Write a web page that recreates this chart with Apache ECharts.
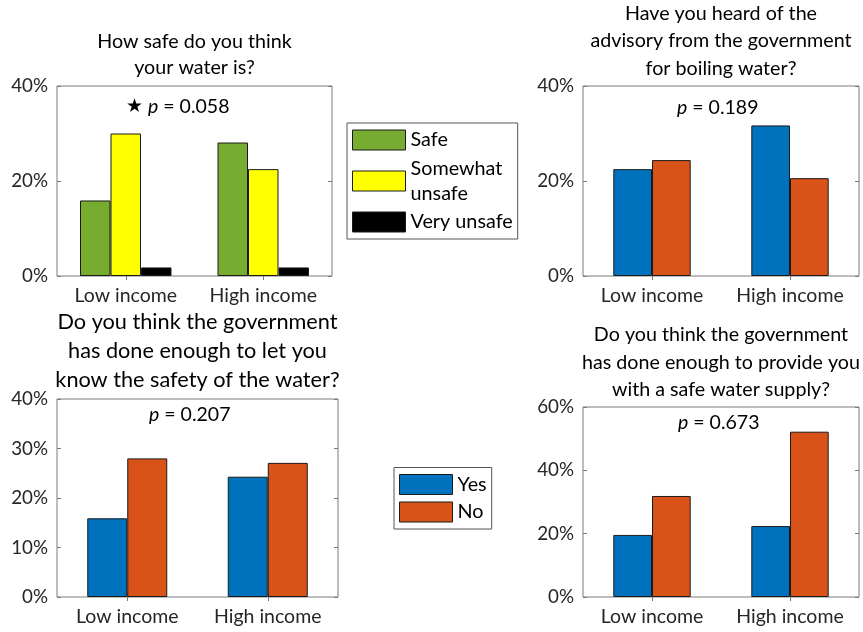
<!DOCTYPE html>
<html><head><meta charset="utf-8">
<script src="https://cdn.jsdelivr.net/npm/echarts@6/dist/echarts.min.js"></script>
<style>html,body{margin:0;padding:0;background:#fff}#c{width:863px;height:632px}</style>
</head><body><div id="c"></div>
<script>
// ---- data ----
const categories = ['Low income', 'High income'];
const safe = [15.9, 28.1];
const somewhatUnsafe = [30.0, 22.5];
const veryUnsafe = [1.8, 1.8];
const heardYes = [22.5, 31.7];
const heardNo = [24.4, 20.6];
const informYes = [15.9, 24.3];
const informNo = [28.0, 27.1];
const supplyYes = [19.6, 22.4];
const supplyNo = [31.9, 52.2];
const questionTitles = [
  'How safe do you think\nyour water is?',
  'Have you heard of the\nadvisory from the government\nfor boiling water?',
  'Do you think the government\nhas done enough to let you\nknow the safety of the water?',
  'Do you think the government\nhas done enough to provide you\nwith a safe water supply?'
];
const pValues = ['0.058', '0.189', '0.207', '0.673'];
const significant = [true, false, false, false];
const yMax = [40, 40, 40, 60];
const yStep = [20, 20, 10, 20];

// ---- style / layout ----
const FONT = 'Lato, "Open Sans", sans-serif';
const AX = '#7a7a7a';
const LBL = '#262626';
const EDGE = '#1a1a1a';
const C = { safe: '#77AC30', some: '#FFFF00', very: '#000000', yes: '#0072BD', no: '#D95319' };
const grids = [
  { left: 57, top: 86, width: 275, height: 190 },
  { left: 583, top: 86, width: 276, height: 190 },
  { left: 57, top: 399, width: 281, height: 198 },
  { left: 583, top: 407, width: 276, height: 190 }
];
const barW = [30.5, 38.7, 40, 38.7];
const titlePos = [
  { x: 194.5, top: 29, lh: 26, fs: 19.7 },
  { x: 721, top: 0, lh: 27.3, fs: 19.7 },
  { x: 197.5, top: 307.5, lh: 29, fs: 21.7 },
  { x: 721, top: 321, lh: 27.5, fs: 19.7 }
];
const pPos = [{ left: 126, top: 96 }, { left: 677, top: 97 }, { left: 149, top: 404 }, { left: 678, top: 412 }];

const xAxes = [], yAxes = [];
for (let i = 0; i < 4; i++) {
  xAxes.push({
    gridIndex: i, type: 'category', data: categories, position: 'bottom',
    axisLine: { show: false },
    axisTick: { show: true, inside: true, alignWithLabel: true, interval: 0, length: 4, lineStyle: { color: AX } },
    axisLabel: { interval: 0, hideOverlap: false, color: LBL, fontSize: 19.5, fontFamily: FONT, margin: 10 }
  });
  yAxes.push({
    gridIndex: i, type: 'value', min: 0, max: yMax[i], interval: yStep[i], position: 'left',
    axisLine: { show: false }, splitLine: { show: false },
    axisTick: { show: true, inside: true, length: 4, lineStyle: { color: AX } },
    axisLabel: { formatter: '{value}%', color: LBL, fontSize: 18.8, fontFamily: FONT, margin: 9 }
  });
}
for (let i = 0; i < 4; i++) {
  xAxes.push({
    gridIndex: i, type: 'category', data: categories, position: 'top',
    axisLine: { show: false }, axisLabel: { show: false },
    axisTick: { show: true, inside: true, alignWithLabel: true, interval: 0, length: 4, lineStyle: { color: AX } }
  });
  yAxes.push({
    gridIndex: i, type: 'value', min: 0, max: yMax[i], interval: yStep[i], position: 'right',
    axisLine: { show: false }, splitLine: { show: false }, axisLabel: { show: false },
    axisTick: { show: true, inside: true, length: 4, lineStyle: { color: AX } }
  });
}

function bar(name, data, color, i) {
  return {
    name, type: 'bar', data, xAxisIndex: i, yAxisIndex: i,
    barWidth: barW[i], barGap: '0%',
    itemStyle: { color, borderColor: EDGE, borderWidth: 1 },
    emphasis: { disabled: true }, animation: false
  };
}
const series = [
  bar('Safe', safe, C.safe, 0),
  bar('Somewhat unsafe', somewhatUnsafe, C.some, 0),
  bar('Very unsafe', veryUnsafe, C.very, 0),
  bar('Yes', heardYes, C.yes, 1), bar('No', heardNo, C.no, 1),
  bar('Yes', informYes, C.yes, 2), bar('No', informNo, C.no, 2),
  bar('Yes', supplyYes, C.yes, 3), bar('No', supplyNo, C.no, 3)
];

const titles = [];
questionTitles.forEach((t, i) => {
  titles.push({
    text: t, left: titlePos[i].x, top: titlePos[i].top, textAlign: 'center', padding: 0,
    textStyle: { fontFamily: FONT, fontWeight: 'normal', fontSize: titlePos[i].fs, lineHeight: titlePos[i].lh, color: '#000' }
  });
});
pValues.forEach((p, i) => {
  titles.push({
    text: (significant[i] ? '{s|★} ' : '') + '{i|p} = ' + p,
    left: pPos[i].left, top: pPos[i].top, textAlign: 'left', padding: 0,
    textStyle: {
      fontFamily: FONT, fontWeight: 'normal', fontSize: 19.5, lineHeight: 22, color: '#000',
      rich: {
        i: { fontStyle: 'italic', fontFamily: FONT, fontSize: 19.5, color: '#000' },
        s: { fontFamily: 'DejaVu Sans', fontSize: 19, color: '#000' }
      }
    }
  });
});

const legendCommon = {
  orient: 'vertical', icon: 'rect', itemWidth: 53, itemHeight: 20, itemTextGap: 4,
  borderColor: '#555', borderWidth: 1, backgroundColor: '#fff', selectedMode: false,
  itemStyle: { borderColor: EDGE, borderWidth: 1 },
  textStyle: { fontFamily: FONT, fontSize: 19.8, lineHeight: 25, color: '#000' }
};
const chart = echarts.init(document.getElementById('c'), null, { renderer: 'canvas' });
chart.setOption({
  backgroundColor: '#fff',
  animation: false,
  title: titles,
  grid: grids.map(g => Object.assign({ show: true, borderColor: AX, borderWidth: 1, backgroundColor: 'transparent', containLabel: false }, g)),
  xAxis: xAxes,
  yAxis: yAxes,
  legend: [
    Object.assign({}, legendCommon, {
      data: ['Safe', 'Somewhat unsafe', 'Very unsafe'], left: 347, top: 123, padding: [4.5, 5, 4.5, 5], itemGap: 3.5,
      formatter: n => n === 'Somewhat unsafe' ? 'Somewhat\nunsafe' : n
    }),
    Object.assign({}, legendCommon, {
      data: ['Yes', 'No'], left: 394, top: 467.5, padding: [4.5, 5, 4.5, 5], itemGap: 2.5
    })
  ],
  series
});
</script>
</body></html>
